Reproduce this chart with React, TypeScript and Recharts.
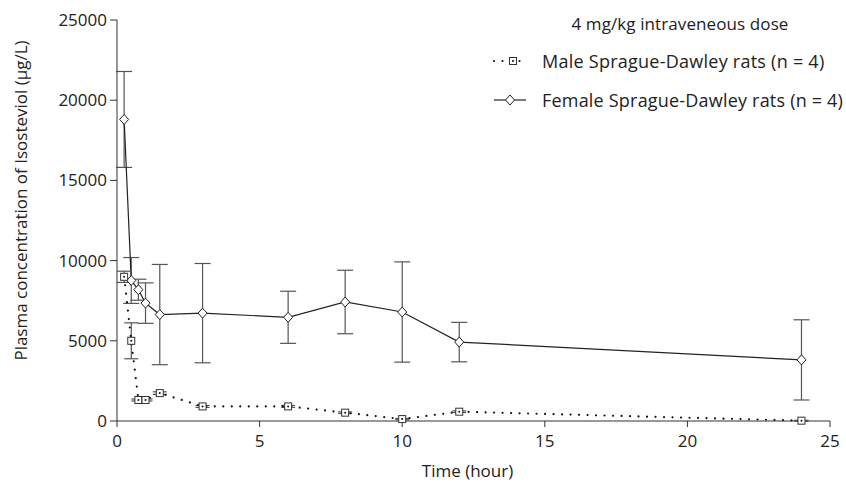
import React from 'react';
import { LineChart, Line, XAxis, YAxis, ErrorBar } from 'recharts';

const times = [0.25, 0.5, 0.75, 1, 1.5, 3, 6, 8, 10, 12, 24];
const maleMean = [8990, 5000, 1310, 1310, 1740, 910, 910, 520, 120, 580, 20];
const maleSD = [350, 1120, 60, 60, 80, 60, 60, 50, 40, 50, 20];
const femaleMean = [18800, 8760, 8185, 7350, 6635, 6725, 6465, 7420, 6795, 4920, 3810];
const femaleSD = [2990, 1430, 655, 1260, 3125, 3095, 1625, 1980, 3125, 1230, 2500];
const xTicks = [0, 5, 10, 15, 20, 25];
const yTicks = [0, 5000, 10000, 15000, 20000, 25000];

const titleText = '4 mg/kg intraveneous dose';
const maleName = 'Male Sprague-Dawley rats (n = 4)';
const femaleName = 'Female Sprague-Dawley rats (n = 4)';
const xLabel = 'Time (hour)';
const yLabel = 'Plasma concentration of Isosteviol (\u03bcg/L)';

const data = times.map((t, i) => ({
  t,
  male: maleMean[i],
  maleErr: maleSD[i],
  female: femaleMean[i],
  femaleErr: femaleSD[i],
}));

const FONT = '"Open Sans", sans-serif';
const INK = '#222';

const SquareDot = (props: any) => {
  const { cx, cy, index } = props;
  if (cx == null || cy == null) return <g key={`s${index}`} />;
  return (
    <g key={`s${index}`}>
      <rect x={cx - 3.5} y={cy - 3.5} width={7} height={7} fill="#fff" stroke="#333" strokeWidth={1} />
      <circle cx={cx} cy={cy} r={1} fill="#111" />
    </g>
  );
};

const DiamondDot = (props: any) => {
  const { cx, cy, index } = props;
  if (cx == null || cy == null) return <g key={`d${index}`} />;
  return (
    <path
      key={`d${index}`}
      d={`M${cx},${cy - 5} L${cx + 4.5},${cy} L${cx},${cy + 5} L${cx - 4.5},${cy} Z`}
      fill="#fff"
      stroke="#222"
      strokeWidth={1}
    />
  );
};

const LegendBox = () => (
  <div style={{ position: 'absolute', left: 0, top: 0, width: 846, height: 120, fontFamily: FONT, fontSize: 18, color: INK, pointerEvents: 'none' }}>
    <div style={{ position: 'absolute', left: 480, top: 12, width: 400, textAlign: 'center', lineHeight: '24px', whiteSpace: 'nowrap', fontSize: 17, letterSpacing: '0.1px' }}>
      {titleText}
    </div>
    <svg style={{ position: 'absolute', left: 492, top: 55 }} width={36} height={12}>
      <line x1={2} y1={6} x2={34} y2={6} stroke="#111" strokeWidth={2.2} strokeDasharray="0 8.5" strokeLinecap="round" />
      <rect x={17.5} y={2.5} width={7} height={7} fill="#fff" stroke="#333" strokeWidth={1} />
      <circle cx={21} cy={6} r={1} fill="#111" />
    </svg>
    <div style={{ position: 'absolute', left: 542, top: 49, lineHeight: '24px', whiteSpace: 'nowrap', letterSpacing: '0.25px' }}>{maleName}</div>
    <svg style={{ position: 'absolute', left: 492, top: 93 }} width={36} height={14}>
      <line x1={2} y1={7} x2={34} y2={7} stroke="#222" strokeWidth={1.2} />
      <path d="M18,2 L22.5,7 L18,12 L13.5,7 Z" fill="#fff" stroke="#222" strokeWidth={1} />
    </svg>
    <div style={{ position: 'absolute', left: 542, top: 88, lineHeight: '24px', whiteSpace: 'nowrap', letterSpacing: '0.2px' }}>{femaleName}</div>
  </div>
);

const YLabel = (props: any) => {
  const vb = props.viewBox || {};
  const x = vb.x + 20;
  const y = vb.y + vb.height / 2 - 20;
  return (
    <text x={x} y={y} transform={`rotate(-90, ${x}, ${y})`} textAnchor="middle" dominantBaseline="central"
      fontFamily={FONT} fontSize={17} fill={INK}>
      {yLabel}
    </text>
  );
};

const XLabel = (props: any) => {
  const vb = props.viewBox || {};
  const x = vb.x + vb.width / 2 - 6;
  const y = vb.y + 49;
  return (
    <text x={x} y={y} textAnchor="middle" dominantBaseline="central" fontFamily={FONT} fontSize={17} fill={INK}>
      {xLabel}
    </text>
  );
};

export default function App() {
  return (
    <div style={{ position: 'absolute', left: 0, top: 0, width: 846, height: 482, background: '#fff' }}>
      <LineChart width={846} height={482} data={data} margin={{ top: 20, right: 16, bottom: 0, left: 0 }}>
        <XAxis
          dataKey="t"
          type="number"
          domain={[0, 25]}
          ticks={xTicks}
          interval={0}
          height={61}
          tickSize={6}
          tickMargin={8}
          stroke="#333"
          tick={{ fontFamily: FONT, fontSize: 17, fill: INK }}
          label={<XLabel />}
        />
        <YAxis
          type="number"
          domain={[0, 25000]}
          ticks={yTicks}
          interval={0}
          width={117}
          tickSize={7}
          tickMargin={3}
          stroke="#333"
          tick={{ fontFamily: FONT, fontSize: 17, fill: INK }}
          label={<YLabel />}
        />
        <Line
          dataKey="female"
          name={femaleName}
          stroke="#222"
          strokeWidth={1.2}
          isAnimationActive={false}
          dot={<DiamondDot />}
          activeDot={false}
        >
          <ErrorBar dataKey="femaleErr" width={8} stroke="#555" strokeWidth={1.2} direction="y" />
        </Line>
        <Line
          dataKey="male"
          name={maleName}
          stroke="#111"
          strokeWidth={2.2}
          strokeDasharray="0 8.5"
          strokeLinecap="round"
          isAnimationActive={false}
          dot={<SquareDot />}
          activeDot={false}
        >
          <ErrorBar dataKey="maleErr" width={7} stroke="#555" strokeWidth={1.2} direction="y" />
        </Line>
      </LineChart>
      <LegendBox />
    </div>
  );
}
